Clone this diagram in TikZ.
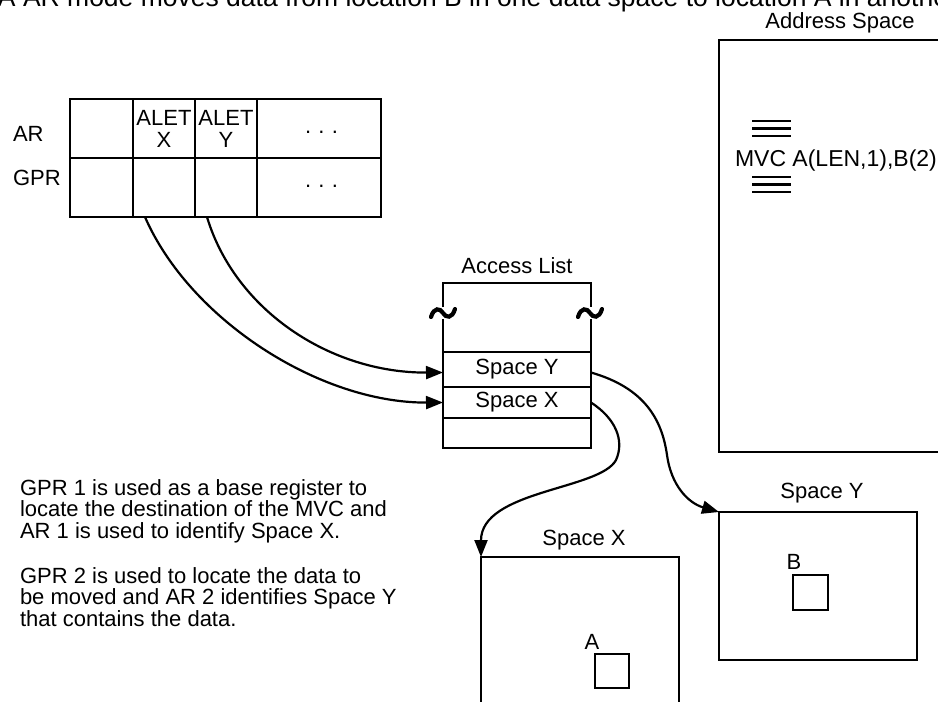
\documentclass[tikz,border=0pt]{standalone}
\usepackage{fontspec}
\setmainfont{Liberation Sans}
\usetikzlibrary{arrows.meta}
\tikzset{
  every node/.style={font=\fontsize{22}{22}\selectfont, inner sep=0pt, outer sep=0pt},
  cell/.style={draw, line width=2.2pt, anchor=north west, minimum height=59pt},
  box/.style={draw, line width=2.2pt, anchor=north west},
  thk/.style={line width=2.2pt},
  conn/.style={line width=2.2pt, -{Triangle[length=17pt,width=13pt]}},
  eqv/.style={line width=2.6pt},
  tld/.style={line width=4.2pt, line cap=round},
  txt/.style={anchor=base west},
}
\begin{document}
\begin{tikzpicture}[x=1pt,y=-1pt]
\useasboundingbox (0,0) rectangle (938,702);
\clip (0,0) rectangle (938,702);

% cut-off top line
\node[txt, font=\fontsize{26.5}{26.5}\selectfont] (top) at (-2,6) {A AR mode moves data from location B in one data space to location A in another};

% register table
\node[txt] (lar) at (13,141) {AR};
\node[txt] (lgpr) at (13,185) {GPR};
\node[cell, minimum width=63pt] (c11) at (70,99) {};
\node[cell, minimum width=62pt, align=center] (c12) at (133,99) {ALET\\X};
\node[cell, minimum width=62pt, align=center] (c13) at (195,99) {ALET\\Y};
\node[cell, minimum width=124pt] (c14) at (257,99) {};
\node[cell, minimum width=63pt] (c21) at (70,158) {};
\node[cell, minimum width=62pt] (c22) at (133,158) {};
\node[cell, minimum width=62pt] (c23) at (195,158) {};
\node[cell, minimum width=124pt] (c24) at (257,158) {};
\node[txt] (d1) at (305,133) {.\,\,.\,\,.};
\node[txt] (d2) at (305,187) {.\,\,.\,\,.};

% access list
\node (altitle) at (517,266) {Access List};
\draw[thk] (443,307) -- (443,283) -- (591,283) -- (591,307);
\draw[thk] (443,319) -- (443,352);
\draw[thk] (591,319) -- (591,352);
\draw[tld] (431,317) .. controls (434,307) and (440,308) .. (443,313) .. controls (446,318) and (452,319) .. (455,309);
\draw[tld] (578,317) .. controls (581,307) and (587,308) .. (590,313) .. controls (593,318) and (599,319) .. (602,309);
\node[box, minimum width=148pt, minimum height=35pt] (alY) at (443,352) {Space Y};
\node[box, minimum width=148pt, minimum height=31pt] (alX) at (443,387) {Space X};
\node[box, minimum width=148pt, minimum height=30pt] (alE) at (443,418) {};

% address space
\node (astitle) at (840,23) {Address Space};
\node[box, minimum width=260pt, minimum height=412pt] (as) at (719,40) {};
\draw[eqv] (752,121) -- (791,121) (752,128.5) -- (791,128.5) (752,136) -- (791,136);
\node[txt, font=\fontsize{23}{23}\selectfont] (mvc) at (735,166) {MVC A(LEN,1),B(2)};
\draw[eqv] (752,177) -- (791,177) (752,184.5) -- (791,184.5) (752,192) -- (791,192);

% space Y
\node (sytitle) at (822,493) {Space Y};
\node[box, minimum width=198pt, minimum height=148pt] (spY) at (719,512) {};
\node (lb) at (794,562) {B};
\node[box, minimum width=35pt, minimum height=35pt] (sqB) at (793,575) {};

% space X
\node (sxtitle) at (584,540) {Space X};
\node[box, minimum width=198pt, minimum height=190pt] (spX) at (481,557) {};
\node (la) at (592,642) {A};
\node[box, minimum width=34pt, minimum height=34pt] (sqA) at (595,654) {};

% explanation
\node[txt] (p1) at (20,495) {GPR 1 is used as a base register to};
\node[txt] (p2) at (20,516.5) {locate the destination of the MVC and};
\node[txt] (p3) at (20,538) {AR 1 is used to identify Space X.};
\node[txt] (p4) at (20,583) {GPR 2 is used to locate the data to};
\node[txt] (p5) at (20,604.5) {be moved and AR 2 identifies Space Y};
\node[txt] (p6) at (20,626) {that contains the data.};

% connectors
\coordinate (s1) at ([xshift=-19pt]c22.south);
\coordinate (s2) at ([xshift=-19pt]c23.south);
\draw[conn] (s1) .. controls (190,320) and (320,403) .. (alX.west);
\draw[conn] (s2) .. controls (235,310) and (330,373) .. ([yshift=-3pt]alY.west);
\draw[conn] ([yshift=-3pt]alY.east) .. controls (645,388) and (662,420) .. (667,455) .. controls (671,485) and (688,503) .. (spY.north west);
\draw[conn] (alX.east) .. controls (615,418) and (625,440) .. (616,460) .. controls (600,490) and (481,490) .. (spX.north west);
\end{tikzpicture}
\end{document}
